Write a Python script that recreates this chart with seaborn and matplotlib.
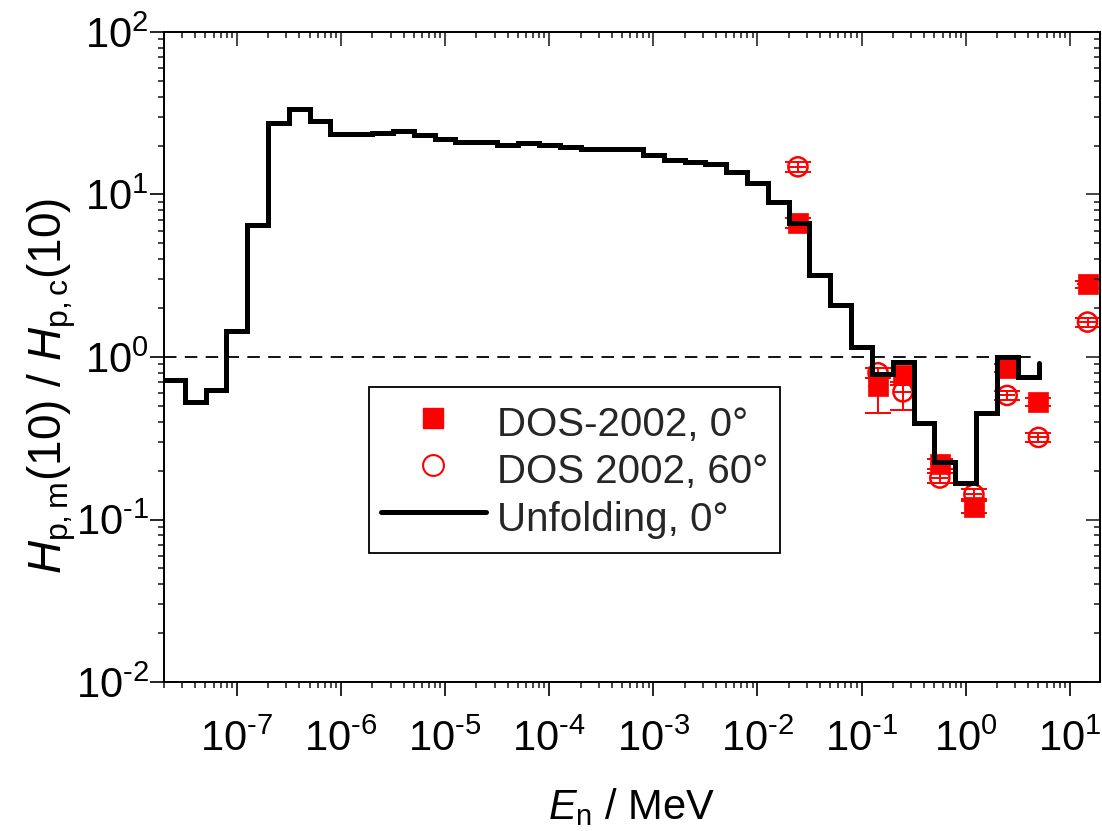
import matplotlib
matplotlib.use("Agg")
import matplotlib.pyplot as plt
from matplotlib.lines import Line2D
from matplotlib.ticker import LogLocator, NullFormatter, FuncFormatter
import seaborn as sns
import numpy as np
import pandas as pd

# ---------------- data ----------------
# Unfolding, 0 deg: step histogram (left bin edge in MeV, value); last point closes the line
unf_E = [2.0e-8, 3.16e-8, 5.01e-8, 7.94e-8,
         1.26e-7, 2.0e-7, 3.16e-7, 5.01e-7, 7.94e-7,
         1.26e-6, 2.0e-6, 3.16e-6, 5.01e-6, 7.94e-6,
         1.26e-5, 2.0e-5, 3.16e-5, 5.01e-5, 7.94e-5,
         1.26e-4, 2.0e-4, 3.16e-4, 5.01e-4, 7.94e-4,
         1.26e-3, 2.0e-3, 3.16e-3, 5.01e-3, 7.94e-3,
         1.26e-2, 2.0e-2, 3.16e-2, 5.01e-2, 7.94e-2,
         0.126, 0.2, 0.316, 0.501, 0.794,
         1.26, 2.0, 3.16, 5.01]
unf_R = [0.72, 0.53, 0.63, 1.45,
         6.5, 27.4, 33.5, 28.5, 23.5,
         23.5, 24.0, 24.7, 23.2, 21.9,
         21.1, 21.1, 20.2, 20.8, 20.2,
         19.5, 19.0, 19.0, 19.0, 17.5,
         16.3, 15.8, 15.4, 13.8, 11.8,
         9.03, 6.65, 3.2, 2.09, 1.16,
         0.79, 0.935, 0.39, 0.227, 0.167,
         0.45, 1.0, 0.757, 0.915]

# DOS-2002 measurements at monoenergetic reference fields (MeV)
dos_E = [0.0245, 0.144, 0.25, 0.565, 1.2, 2.5, 5.0, 14.8]
dos0_R = [6.7, 0.66, 0.78, 0.22, 0.12, 0.86, 0.53, 2.8]
dos0_lo = [0.5, 0.21, 0.08, 0.015, 0.01, 0.05, 0.03, 0.15]
dos0_hi = [0.5, 0.08, 0.08, 0.015, 0.01, 0.05, 0.03, 0.15]
dos60_R = [14.8, 0.80, 0.61, 0.18, 0.143, 0.58, 0.32, 1.64]
dos60_lo = [1.0, 0.06, 0.14, 0.012, 0.01, 0.04, 0.02, 0.10]
dos60_hi = [1.0, 0.06, 0.06, 0.012, 0.01, 0.04, 0.02, 0.10]
x_rel_err = [0.2, 0.2, 0.2, 0.2, 0.2, 0.2, 0.2, 0.2]

ref_line_E = [2.0e-8, 5.0]
ref_line_R = [1.0, 1.0]

labels = ["DOS-2002, 0°", "DOS 2002, 60°", "Unfolding, 0°"]

# ---------------- style ----------------
sns.set_theme(style="ticks")
plt.rcParams["font.family"] = ["Liberation Sans", "DejaVu Sans"]
plt.rcParams["mathtext.fontset"] = "custom"
plt.rcParams["mathtext.rm"] = "Liberation Sans"
plt.rcParams["mathtext.it"] = "Liberation Sans:italic"
plt.rcParams["mathtext.bf"] = "Liberation Sans:bold"
plt.rcParams["axes.unicode_minus"] = False
plt.rcParams["lines.scale_dashes"] = False

fig = plt.figure(figsize=(11.02, 8.31), dpi=100)
fig.patch.set_facecolor("white")
ax = fig.add_axes([164 / 1102, (831 - 682) / 831, 936 / 1102, 650 / 831])
ax.set_xscale("log")
ax.set_yscale("log")
xlim = (2.0e-8, 19.5)
ylim = (1e-2, 1e2)

red = "#ff0000"

# error bars
xlo = [e * r for e, r in zip(dos_E, x_rel_err)]
xhi = [e * r for e, r in zip(dos_E, x_rel_err)]
for R, lo, hi in [(dos0_R, dos0_lo, dos0_hi), (dos60_R, dos60_lo, dos60_hi)]:
    ax.errorbar(dos_E, R, yerr=[lo, hi], fmt="none", ecolor=red,
                elinewidth=1.4, capsize=9.5, capthick=1.4, zorder=2)
    ax.errorbar(dos_E, R, xerr=[xlo, xhi], fmt="none", ecolor=red,
                elinewidth=1.4, capsize=0, zorder=2)

df0 = pd.DataFrame({"E": dos_E, "R": dos0_R})
df60 = pd.DataFrame({"E": dos_E, "R": dos60_R})
sns.scatterplot(data=df0, x="E", y="R", marker="s", s=190, color=red,
                edgecolor=red, linewidth=0.5, ax=ax, zorder=3, legend=False)
sns.scatterplot(data=df60, x="E", y="R", marker="o", s=190, facecolor="none",
                edgecolor=red, linewidth=1.8, ax=ax, zorder=3, legend=False)

# unfolding step line
dfu = pd.DataFrame({"E": unf_E, "R": unf_R})
sns.lineplot(data=dfu, x="E", y="R", drawstyle="steps-post", color="black",
             linewidth=3.6, estimator=None, sort=False, ax=ax, zorder=4,
             solid_joinstyle="miter", solid_capstyle="round", legend=False)

# reference line at 1
ax.plot(ref_line_E, ref_line_R, color="black", linewidth=1.3,
        linestyle=(0, (9, 6)), zorder=1)

ax.set_xlim(*xlim)
ax.set_ylim(*ylim)


def sci(v, pos):
    e = int(round(np.log10(v)))
    if e < 0:
        return r"$\mathdefault{10^{\text{-}%d}}$" % (-e)
    return r"$\mathdefault{10^{%d}}$" % e


for axis in (ax.xaxis, ax.yaxis):
    axis.set_major_locator(LogLocator(base=10, numticks=100))
    axis.set_minor_locator(LogLocator(base=10, subs=[2, 3, 4, 5, 6, 7, 8, 9], numticks=100))
    axis.set_major_formatter(FuncFormatter(sci))
    axis.set_minor_formatter(NullFormatter())

ax.tick_params(which="major", direction="out", length=10, width=1.2,
               labelsize=30, colors="black")
ax.tick_params(axis="x", which="major", pad=17)
ax.tick_params(axis="y", which="major", pad=1)
ax.tick_params(which="minor", direction="out", length=4.5, width=1.2)
for s in ax.spines.values():
    s.set_visible(True)
    s.set_linewidth(1.1)
    s.set_color("black")

# mirrored inward ticks on top and right
axt = ax.twiny()
axt.set_xscale("log")
axt.set_xlim(*xlim)
axt.xaxis.set_major_locator(LogLocator(base=10, numticks=100))
axt.xaxis.set_minor_locator(LogLocator(base=10, subs=[2, 3, 4, 5, 6, 7, 8, 9], numticks=100))
axt.tick_params(axis="x", which="major", direction="in", length=10, width=1.2, labeltop=False)
axt.tick_params(axis="x", which="minor", direction="in", length=4.5, width=1.2)
axr = ax.twinx()
axr.set_yscale("log")
axr.set_ylim(*ylim)
axr.yaxis.set_major_locator(LogLocator(base=10, numticks=100))
axr.yaxis.set_minor_locator(LogLocator(base=10, subs=[2, 3, 4, 5, 6, 7, 8, 9], numticks=100))
axr.tick_params(axis="y", which="major", direction="in", length=10, width=1.2, labelright=False)
axr.tick_params(axis="y", which="minor", direction="in", length=4.5, width=1.2)
for a in (axt, axr):
    for s in a.spines.values():
        s.set_linewidth(1.1)
        s.set_color("black")

ax.set_xlabel(r"$\mathit{E}_{\mathdefault{n}}$ / MeV", fontsize=30, labelpad=19,
              color="black")
ax.set_ylabel(r"$\mathit{H}_{\mathdefault{p,m}}$(10) / $\mathit{H}_{\mathdefault{p,c}}$(10)",
              fontsize=33, color="black")
ax.yaxis.set_label_coords(-0.092, 0.455)

# legend
fs = 29
handles = [
    Line2D([], [], linestyle="none", marker="s", markersize=14, color=red,
           markeredgecolor=red),
    Line2D([], [], linestyle="none", marker="o", markersize=15,
           markerfacecolor="none", markeredgecolor=red, markeredgewidth=1.5),
    Line2D([], [], color="black", linewidth=3.6, solid_capstyle="round"),
]
x0 = (369 - 164) / 936
y1 = (682 - 387) / 650
leg = ax.legend(handles, labels, loc="upper left",
                bbox_to_anchor=(x0, y1),
                borderaxespad=0, fontsize=fs, frameon=True, fancybox=False,
                edgecolor="black", framealpha=1, handlelength=2.6,
                handleheight=1.43, labelspacing=0.0, borderpad=0.3,
                handletextpad=0.27)
leg.get_frame().set_linewidth(1.3)
leg.set_zorder(10)

fig.savefig("out.png", dpi=100, facecolor="white")
